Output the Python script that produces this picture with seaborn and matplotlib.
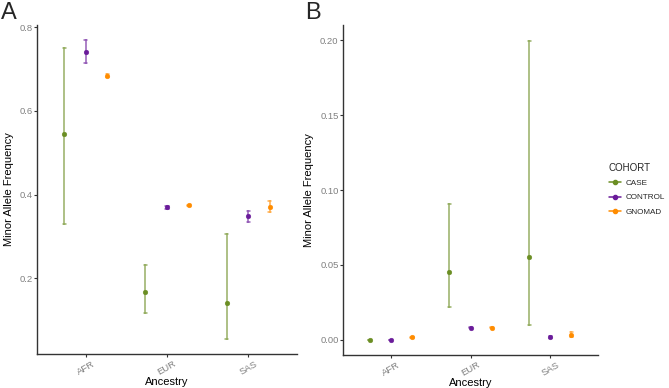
import numpy as np
import pandas as pd
import matplotlib
matplotlib.use("Agg")
import matplotlib.pyplot as plt
from matplotlib.lines import Line2D
import seaborn as sns

ancestry = ["AFR", "AFR", "AFR", "EUR", "EUR", "EUR", "SAS", "SAS", "SAS"]
cohort = ["CASE", "CONTROL", "GNOMAD"] * 3

# Panel A
a_mid = [0.545, 0.741, 0.684, 0.167, 0.369, 0.374, 0.141, 0.348, 0.371]
a_lo = [0.329, 0.714, 0.681, 0.117, 0.365, 0.372, 0.055, 0.335, 0.359]
a_hi = [0.750, 0.768, 0.687, 0.232, 0.373, 0.376, 0.305, 0.360, 0.385]

# Panel B
b_mid = [0.0, 0.0, 0.0016, 0.0456, 0.0082, 0.0080, 0.0556, 0.0018, 0.0031]
b_lo = [0.0, 0.0, 0.0014, 0.0216, 0.0076, 0.0077, 0.0100, 0.0010, 0.0016]
b_hi = [0.0, 0.0, 0.0018, 0.0907, 0.0088, 0.0083, 0.1998, 0.0026, 0.0051]

order = ["AFR", "EUR", "SAS"]
hue_order = ["CASE", "CONTROL", "GNOMAD"]
colors = ["#6B8E23", "#6A1B9A", "#FF8C00"]
palette = dict(zip(hue_order, colors))


def long_frame(mid, lo, hi):
    rows = []
    for anc, coh, m, l, h in zip(ancestry, cohort, mid, lo, hi):
        for v in (l, m, h):
            rows.append({"Ancestry": anc, "COHORT": coh, "MAF": v})
    return pd.DataFrame(rows)


sns.set_theme(style="white")
plt.rcParams["font.family"] = ["Liberation Sans", "DejaVu Sans"]

fig = plt.figure(figsize=(6.69, 3.88), dpi=100)
axA = fig.add_axes([0.0553, 0.0876, 0.3887, 0.848])
axB = fig.add_axes([0.5127, 0.0851, 0.3813, 0.8505])

for ax, (mid, lo, hi), ylim, yticks, fmt in [
    (axA, (a_mid, a_lo, a_hi), (0.019, 0.805), [0.2, 0.4, 0.6, 0.8], "{:.1f}"),
    (axB, (b_mid, b_lo, b_hi), (-0.0101, 0.2102), [0.0, 0.05, 0.10, 0.15, 0.20], "{:.2f}"),
]:
    df = long_frame(mid, lo, hi)
    sns.pointplot(
        data=df, x="Ancestry", y="MAF", hue="COHORT",
        order=order, hue_order=hue_order, palette=palette,
        estimator="median", errorbar=("pi", 100),
        dodge=0.53, linestyle="none", markers="o", markersize=3.4,
        markeredgewidth=0.3,
        capsize=0.04, err_kws={"linewidth": 1.1, "alpha": 0.7},
        legend=False, ax=ax,
    )
    ax.set_xlim(-0.6, 2.6)
    ax.set_ylim(*ylim)
    ax.set_yticks(yticks)
    ax.set_yticklabels([fmt.format(t) for t in yticks])
    for s in ["top", "right"]:
        ax.spines[s].set_visible(False)
    for s in ["left", "bottom"]:
        ax.spines[s].set_color("#333333")
        ax.spines[s].set_linewidth(1.0)
    ax.tick_params(axis="both", which="both", length=2.2, width=0.8,
                   color="#333333", labelcolor="#808080", labelsize=6.8,
                   direction="out", bottom=True, left=True)
    ax.tick_params(axis="y", pad=1.0)
    ax.tick_params(axis="x", pad=1.5)
    for lab in ax.get_xticklabels():
        lab.set_rotation(30)
        lab.set_ha("center")
    ax.set_xlabel("Ancestry", fontsize=8, color="black", labelpad=0)
    ax.set_ylabel("Minor Allele Frequency", fontsize=8, color="black", labelpad=4)
    ax.grid(False)

fig.text(0.002, 0.995, "A", fontsize=17, va="top", ha="left")
fig.text(0.456, 0.995, "B", fontsize=17, va="top", ha="left")

handles = [Line2D([0], [0], color=c, marker="o", markersize=3.0, linewidth=1.1)
           for c in colors]
leg = fig.legend(handles, hue_order, title="COHORT", loc="center left",
                 bbox_to_anchor=(0.910, 0.512), frameon=False, fontsize=5.9,
                 title_fontsize=7.0, handlelength=1.5, handletextpad=0.5,
                 labelspacing=0.8, borderaxespad=0, borderpad=0)
leg._legend_box.align = "left"

fig.savefig("out.png", dpi=100)
